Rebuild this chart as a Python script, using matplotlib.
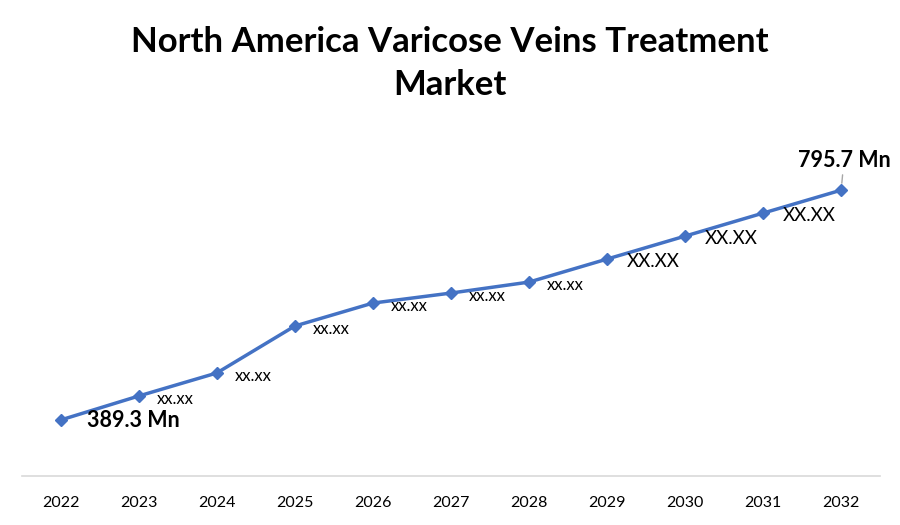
import matplotlib.pyplot as plt

plt.rcParams['font.family'] = ['Lato', 'DejaVu Sans']

# Chart data
years = [2022, 2023, 2024, 2025, 2026, 2027, 2028, 2029, 2030, 2031, 2032]
values = [389.3, 431.7, 472.4, 555.4, 596.0, 613.7, 633.1, 673.8, 714.4, 755.1, 795.7]
point_labels = ["389.3 Mn", "xx.xx", "xx.xx", "xx.xx", "xx.xx", "xx.xx", "xx.xx",
                "XX.XX", "XX.XX", "XX.XX", "795.7 Mn"]

fig = plt.figure(figsize=(9, 5.25), dpi=100)
ax = fig.add_axes([0.024, 0.093, 0.954, 0.64])

ax.plot(years, values, color="#4472C4", linewidth=2.5,
        marker="D", markersize=6.5)

ax.set_xlim(2021.5, 2032.5)
ax.set_ylim(290, 884)
ax.set_xticks(years)
ax.set_xticklabels([str(y) for y in years], fontsize=11.5)
ax.set_yticks([])
ax.tick_params(axis="x", length=0, pad=14)

for side in ["top", "right", "left"]:
    ax.spines[side].set_visible(False)
ax.spines["bottom"].set_color("#D9D9D9")
ax.spines["bottom"].set_linewidth(1.2)

for i, (x, v, lab) in enumerate(zip(years, values, point_labels)):
    if i == 0:
        ax.annotate(lab, (x, v), xytext=(19, 0), textcoords="offset points",
                    fontsize=15.5, fontweight="bold", ha="left", va="center")
    elif i == len(years) - 1:
        ax.annotate(lab, (x, v), xytext=(2, 14), textcoords="offset points",
                    fontsize=15.5, fontweight="bold", ha="center", va="bottom",
                    arrowprops=dict(arrowstyle="-", color="#A6A6A6", lw=1,
                                    shrinkA=1, shrinkB=5))
    elif lab == "XX.XX":
        ax.annotate(lab, (x, v), xytext=(14, -2), textcoords="offset points",
                    fontsize=13.5, ha="left", va="center")
    else:
        ax.annotate(lab, (x, v), xytext=(13, -2), textcoords="offset points",
                    fontsize=12, ha="left", va="center")

fig.text(0.5, 0.879, "North America Varicose Veins Treatment\nMarket",
         ha="center", va="center", fontsize=25, fontweight="bold",
         linespacing=1.45)

plt.savefig("out.png", dpi=100)
